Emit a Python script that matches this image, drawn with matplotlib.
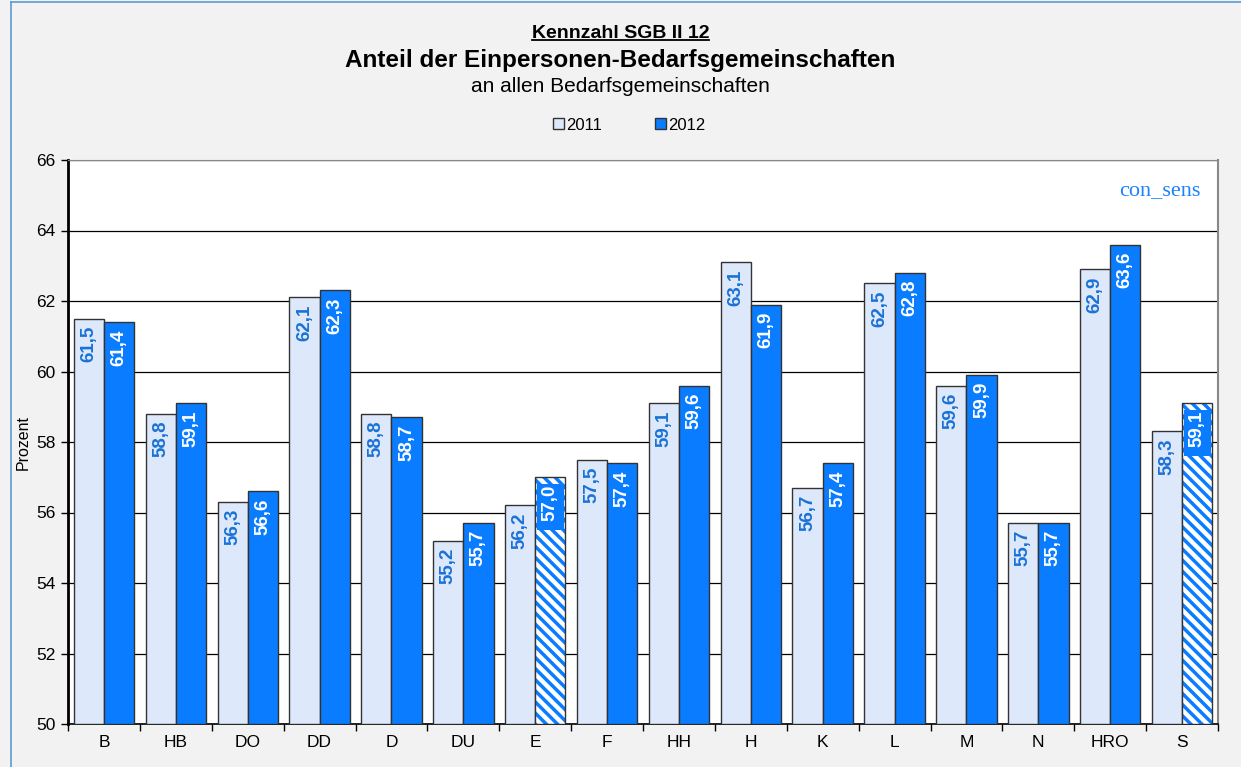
import numpy as np
import matplotlib
matplotlib.use("Agg")
import matplotlib.pyplot as plt
from matplotlib.lines import Line2D
from matplotlib.patches import Rectangle

plt.rcParams['font.family'] = ['Liberation Sans', 'DejaVu Sans']
plt.rcParams['hatch.linewidth'] = 2.5

# Data
categories = ['B', 'HB', 'DO', 'DD', 'D', 'DU', 'E', 'F', 'HH', 'H', 'K', 'L', 'M', 'N', 'HRO', 'S']
values_2011 = [61.5, 58.8, 56.3, 62.1, 58.8, 55.2, 56.2, 57.5, 59.1, 63.1, 56.7, 62.5, 59.6, 55.7, 62.9, 58.3]
values_2012 = [61.4, 59.1, 56.6, 62.3, 58.7, 55.7, 57.0, 57.4, 59.6, 61.9, 57.4, 62.8, 59.9, 55.7, 63.6, 59.1]
hatched_2012 = ['E', 'S']
y_ticks = [50, 52, 54, 56, 58, 60, 62, 64, 66]

light = '#dde8fb'
dark = '#0a7cff'
label_blue = '#1a72d6'
edge = '#333333'

fig = plt.figure(figsize=(12.41, 7.67), dpi=100, facecolor='#f2f2f2')
ax = fig.add_axes([68 / 1241, 1 - 724 / 767, 1150 / 1241, 564 / 767])
ax.set_facecolor('white')

x = np.arange(len(categories))
w = 0.42
off = 0.21

ax.bar(x - off, [v - 50 for v in values_2011], w, bottom=50, color=light,
       edgecolor=edge, linewidth=1.0, zorder=3)
for i, (c, v) in enumerate(zip(categories, values_2012)):
    if c in hatched_2012:
        ax.bar(x[i] + off, v - 50, w, bottom=50, color='white', edgecolor=dark,
               hatch='\\\\\\', linewidth=0, zorder=3)
        ax.bar(x[i] + off, v - 50, w, bottom=50, color='none', edgecolor=edge,
               linewidth=1.0, zorder=4)
        ax.add_patch(Rectangle((x[i] + off - w * 0.45, v - 1.5), w * 0.9, 1.3,
                               facecolor=dark, edgecolor='none', zorder=4.5))
    else:
        ax.bar(x[i] + off, v - 50, w, bottom=50, color=dark, edgecolor=edge,
               linewidth=1.0, zorder=3)

def fmt(v):
    return f'{v:.1f}'.replace('.', ',')

for i, v in enumerate(values_2011):
    ax.text(x[i] - off, v - 0.2, fmt(v), rotation=90, ha='center', va='top',
            color=label_blue, fontsize=13.5, fontweight='bold', zorder=5)
for i, (c, v) in enumerate(zip(categories, values_2012)):
    ax.text(x[i] + off, v - 0.2, fmt(v), rotation=90, ha='center', va='top',
            color='white', fontsize=13.5, fontweight='bold', zorder=5)

ax.set_xlim(-0.5, len(categories) - 0.5)
ax.set_ylim(50, 66)
ax.set_yticks(y_ticks)
ax.yaxis.grid(True, color='black', linewidth=0.9, zorder=0)
ax.set_axisbelow(True)
ax.set_xticks(x)
ax.set_xticklabels(categories)
ax.set_xticks(np.arange(len(categories) + 1) - 0.5, minor=True)
ax.tick_params(axis='x', which='major', length=0, pad=8, labelsize=12.5)
ax.tick_params(axis='x', which='minor', length=5, width=1, direction='out')
ax.tick_params(axis='y', length=5, width=1, direction='out', labelsize=12.5, pad=4)
ax.set_ylabel('Prozent', fontsize=11.5, labelpad=4)

ax.spines['left'].set_linewidth(2)
ax.spines['bottom'].set_linewidth(1.2)
ax.spines['top'].set_color('#888888')
ax.spines['right'].set_color('#888888')
ax.spines['right'].set_linewidth(1.5)

ax.text(0.985, 0.945, 'con_sens', transform=ax.transAxes, ha='right', va='center',
        fontsize=16, color='#1a82ff', family='Liberation Serif')

# Titles
t1 = fig.text(0.5, 1 - 33 / 767, 'Kennzahl SGB II 12', ha='center', va='center',
              fontsize=14, fontweight='bold')
fig.text(0.5, 1 - 60 / 767, 'Anteil der Einpersonen-Bedarfsgemeinschaften', ha='center',
         va='center', fontsize=17.5, fontweight='bold')
fig.text(0.5, 1 - 86 / 767, 'an allen Bedarfsgemeinschaften', ha='center', va='center',
         fontsize=15)

# Legend
handles = [plt.Rectangle((0, 0), 1, 1, facecolor=light, edgecolor=edge),
           plt.Rectangle((0, 0), 1, 1, facecolor=dark, edgecolor=edge)]
fig.legend(handles, ['2011', '2012'], loc='center', bbox_to_anchor=(0.507, 1 - 125 / 767),
           ncol=2, frameon=False, fontsize=12, handlelength=0.65, handleheight=0.65,
           handletextpad=0.1, columnspacing=3.2)

# underline for first title line
fig.canvas.draw()
bb = t1.get_window_extent().transformed(fig.transFigure.inverted())
fig.add_artist(Line2D([bb.x0, bb.x1], [bb.y0 + 0.002, bb.y0 + 0.002], color='black',
                      linewidth=1.3, transform=fig.transFigure))

# outer frame lines
fig.add_artist(Line2D([11 / 1241, 11 / 1241], [0, 1 - 2 / 767], color='#5b9bd5',
                      linewidth=1.2, transform=fig.transFigure))
fig.add_artist(Line2D([11 / 1241, 1], [1 - 2 / 767, 1 - 2 / 767], color='#5b9bd5',
                      linewidth=1.2, transform=fig.transFigure))

fig.savefig('out.png', dpi=100, facecolor=fig.get_facecolor())
